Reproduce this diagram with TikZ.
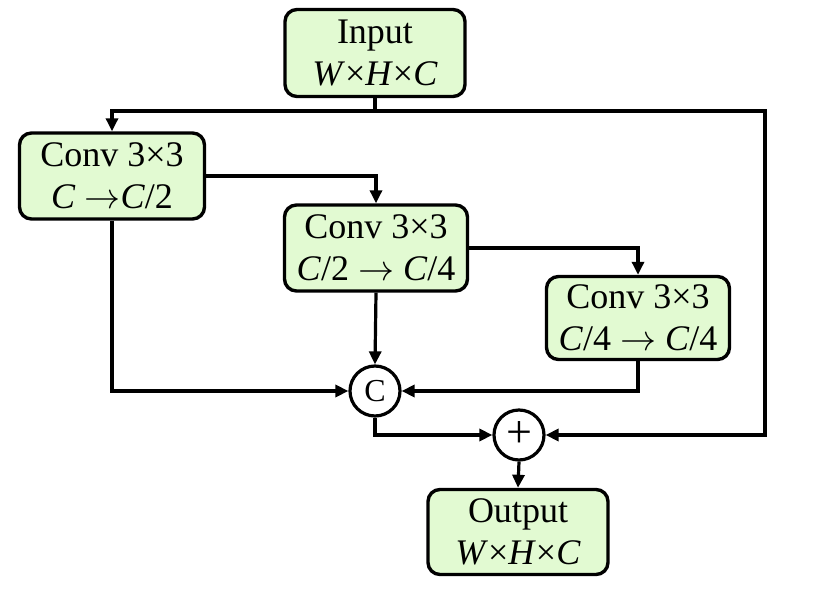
\documentclass[tikz,border=0pt]{standalone}
\usepackage{fix-cm}
\usepackage{fontspec}
\setmainfont{Liberation Serif}
\usetikzlibrary{arrows.meta}
\definecolor{boxgreen}{RGB}{226,250,210}
\tikzset{
  block/.style={draw,line width=3.4pt,rounded corners=12pt,fill=boxgreen,align=center,
    inner sep=0pt,font=\fontsize{36}{42}\selectfont},
  opnode/.style={draw,circle,line width=3.2pt,fill=white,minimum size=50pt,inner sep=0pt,
    font=\fontsize{32}{34}\selectfont},
  arr/.style={line width=3.2pt,-{Triangle[length=13pt,width=12pt]}},
  ln/.style={line width=3.2pt}
}
\begin{document}
\begin{tikzpicture}[x=1pt,y=-1pt]
\useasboundingbox (0,0) rectangle (830,589);
% blocks
\node[block,minimum width=180pt,minimum height=87pt] (in) at (375,53) {Input\\\textit{W}×\textit{H}×\textit{C}};
\node[block,minimum width=185pt,minimum height=86pt] (c1) at (112,176) {Conv 3×3\\\textit{C} $\rightarrow$\textit{C}/2};
\node[block,minimum width=183pt,minimum height=86pt] (c2) at (376,248) {Conv 3×3\\\textit{C}/2 $\rightarrow$ \textit{C}/4};
\node[block,minimum width=183pt,minimum height=83pt] (c3) at (638,318) {Conv 3×3\\\textit{C}/4 $\rightarrow$ \textit{C}/4};
\node[opnode] (cat) at (375,391) {C};
\node[opnode,font=\fontsize{46}{46}\selectfont] (sum) at (519,435) {+};
\node[block,minimum width=180pt,minimum height=85pt] (out) at (518,532) {Output\\\textit{W}×\textit{H}×\textit{C}};
\coordinate (split) at (375,111);
\coordinate (skip) at (765,111);
% connectors
\draw[ln] (in.south) -- (split);
\draw[arr] (split) -| (c1.north);
\draw[arr] (split) -- (skip) |- (sum.east);
\draw[arr] (c1.east) -| (c2.north);
\draw[arr] (c2.east) -| (c3.north);
\draw[arr] (c1.south) |- (cat.west);
\draw[arr] (c2.south) -- (cat.north);
\draw[arr] (c3.south) |- (cat.east);
\draw[arr] (cat.south) |- (sum.west);
\draw[arr] (sum.south) -- (out.north);
\end{tikzpicture}
\end{document}
